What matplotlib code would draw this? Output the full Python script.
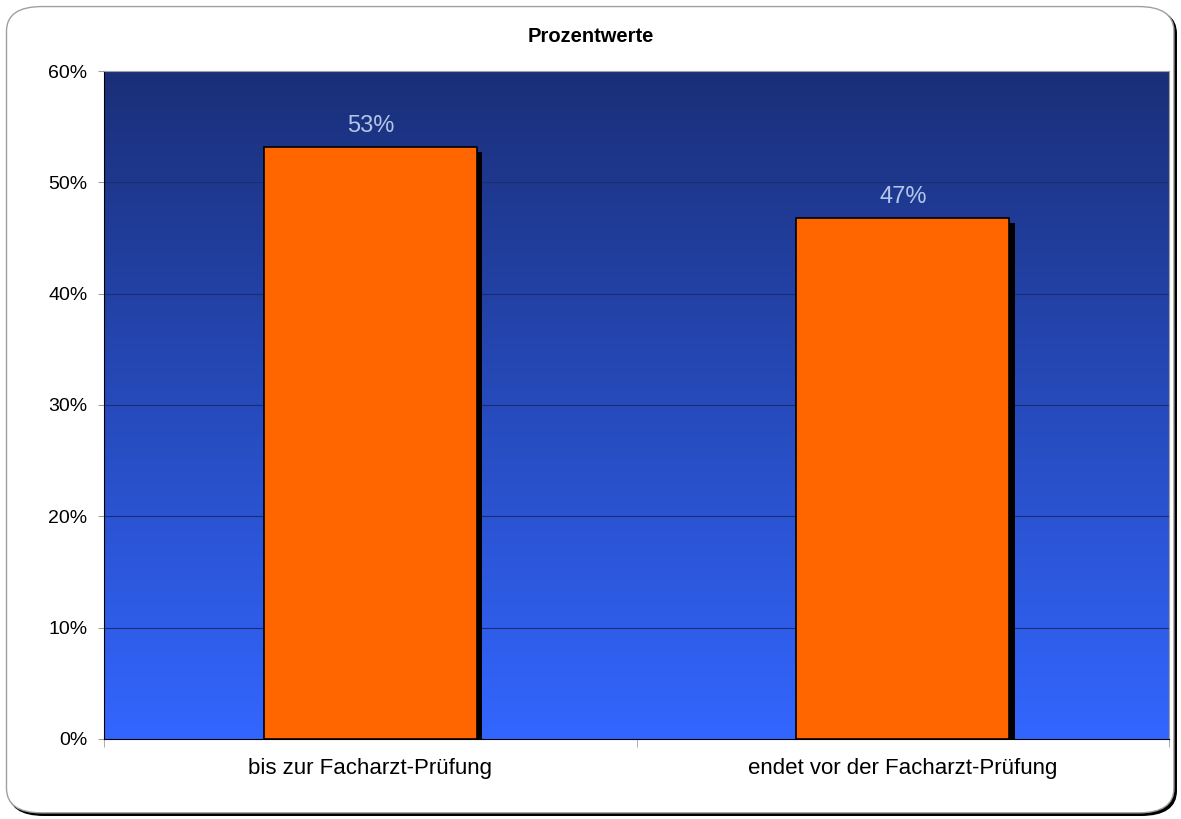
import matplotlib.pyplot as plt
import numpy as np
from matplotlib.patches import FancyBboxPatch
from matplotlib.colors import LinearSegmentedColormap

plt.rcParams['font.family'] = ['Liberation Sans', 'DejaVu Sans']

# data
categories = ['bis zur Facharzt-Prüfung', 'endet vor der Facharzt-Prüfung']
values = [53.2, 46.8]
value_labels = ['53%', '47%']
yticks = [0, 10, 20, 30, 40, 50, 60]
ytick_labels = ['0%', '10%', '20%', '30%', '40%', '50%', '60%']

fig = plt.figure(figsize=(11.81, 8.19), dpi=100)

# rounded frame with shadow
shadow = FancyBboxPatch((0.0075, 0.0045), 0.9885, 0.9845, boxstyle='round,pad=0,rounding_size=0.03',
                        transform=fig.transFigure, facecolor='black', edgecolor='black', lw=1, zorder=0)
frame = FancyBboxPatch((0.0055, 0.0075), 0.9885, 0.9845, boxstyle='round,pad=0,rounding_size=0.03',
                       transform=fig.transFigure, facecolor='white', edgecolor='#a0a0a0', lw=1, zorder=1)
fig.patches.extend([shadow, frame])

ax = fig.add_axes([0.0881, 0.0977, 0.9018, 0.8156])
ax.set_zorder(2)

# gradient background
cmap = LinearSegmentedColormap.from_list('bg', ['#3366ff', '#1a2f78'])
grad = np.linspace(0, 1, 256).reshape(-1, 1)
ax.imshow(grad, aspect='auto', cmap=cmap, origin='lower', extent=[-0.5, 1.5, 0, 60], zorder=0)

# gridlines
for t in yticks[1:-1]:
    ax.axhline(t, color='#1c2c70', lw=0.8, zorder=1)

x = np.arange(len(categories))
# bar shadows
ax.bar(x + 0.01, values, width=0.4, color='black', zorder=2, bottom=-0.45)
ax.bar(x, values, width=0.4, color='#ff6600', edgecolor='black', lw=1.2, zorder=3)

for xi, v, lab in zip(x, values, value_labels):
    ax.text(xi, v + 0.9, lab, ha='center', va='bottom', fontsize=17, color='#b4c6e8', zorder=4)

ax.set_xlim(-0.5, 1.5)
ax.set_ylim(0, 60)
ax.set_yticks(yticks)
ax.set_yticklabels(ytick_labels, fontsize=14)
ax.set_xticks(x)
ax.set_xticklabels(categories, fontsize=16)
ax.tick_params(axis='x', length=0, pad=14)
ax.tick_params(axis='y', length=4, color='#a0a0a0', pad=8)
ax.set_xticks([-0.5, 0.5, 1.5], minor=True)
ax.tick_params(axis='x', which='minor', length=6, color='#a0a0a0')

ax.spines['left'].set_color('black')
ax.spines['bottom'].set_color('black')
ax.spines['top'].set_color('#a0a0a0')
ax.spines['right'].set_color('#a0a0a0')

fig.text(0.5, 0.955, 'Prozentwerte', ha='center', va='center', fontsize=14.5, fontweight='bold')

fig.savefig('out.png', dpi=100)
